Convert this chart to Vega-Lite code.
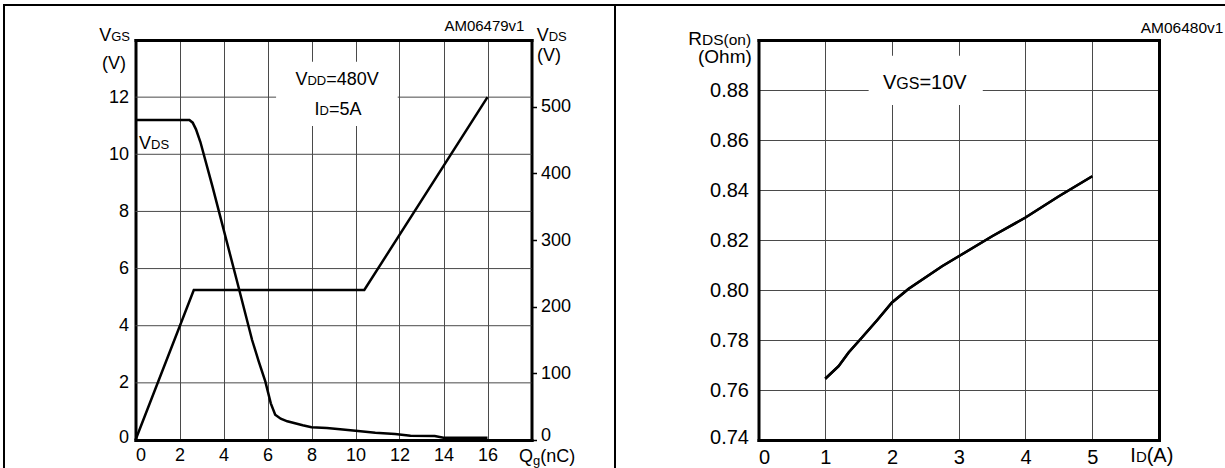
{
  "$schema": "https://vega.github.io/schema/vega-lite/v6.json",
  "background": "white",
  "padding": {"left": 3, "top": 4, "right": 0, "bottom": 0},
  "spacing": 0,
  "bounds": "flush",
  "config": {
    "font": "Liberation Sans",
    "view": {"stroke": "black", "strokeWidth": 2},
    "axis": {"labelColor": "black", "labelFont": "Liberation Sans", "domainColor": "black", "domainWidth": 3, "domainCap": "square", "gridColor": "#4a4a4a", "gridWidth": 1, "ticks": false, "tickColor": "black"},
    "text": {"color": "black", "font": "Liberation Sans"},
    "line": {"color": "black", "strokeWidth": 2.5},
    "rule": {"color": "#4a4a4a", "strokeWidth": 1}
  },
  "datasets": {
    "vgs": [{"qg": 0, "vgs": 0}, {"qg": 2.65, "vgs": 5.25}, {"qg": 10.4, "vgs": 5.25}, {"qg": 16, "vgs": 12}],
    "vds": [
      {"qg": 0, "vds": 480}, {"qg": 2.45, "vds": 480}, {"qg": 2.6, "vds": 476}, {"qg": 2.75, "vds": 466},
      {"qg": 2.95, "vds": 447}, {"qg": 3.5, "vds": 380}, {"qg": 4.6, "vds": 240}, {"qg": 5.3, "vds": 150},
      {"qg": 5.6, "vds": 118}, {"qg": 5.9, "vds": 88}, {"qg": 6.15, "vds": 55}, {"qg": 6.35, "vds": 38},
      {"qg": 6.6, "vds": 32}, {"qg": 6.9, "vds": 28}, {"qg": 7.25, "vds": 25}, {"qg": 7.6, "vds": 22},
      {"qg": 8.0, "vds": 19}, {"qg": 8.7, "vds": 18}, {"qg": 9.3, "vds": 16}, {"qg": 10.0, "vds": 14},
      {"qg": 10.9, "vds": 11}, {"qg": 11.8, "vds": 9}, {"qg": 12.5, "vds": 6.5}, {"qg": 13.6, "vds": 6},
      {"qg": 14.0, "vds": 3.5}, {"qg": 16, "vds": 3.5}
    ],
    "rds": [
      {"id": 1.0, "rds": 0.7645}, {"id": 1.2, "rds": 0.7695}, {"id": 1.35, "rds": 0.775}, {"id": 1.55, "rds": 0.781},
      {"id": 1.78, "rds": 0.788}, {"id": 2.0, "rds": 0.795}, {"id": 2.25, "rds": 0.8005}, {"id": 2.5, "rds": 0.805},
      {"id": 2.75, "rds": 0.8095}, {"id": 3.0, "rds": 0.8135}, {"id": 3.5, "rds": 0.8215}, {"id": 4.0, "rds": 0.829},
      {"id": 4.5, "rds": 0.8375}, {"id": 5.0, "rds": 0.8455}
    ]
  },
  "hconcat": [
    {
      "width": 611,
      "height": 470,
      "layer": [
        {
          "layer": [
            {"data": {"values": [{}]}, "mark": {"type": "rule"},
             "encoding": {"x": {"datum": 0, "type": "quantitative"}, "x2": {"datum": 18}, "y": {"datum": 2, "type": "quantitative"}}},
            {"data": {"values": [{}]}, "mark": {"type": "rule"},
             "encoding": {"x": {"datum": 0, "type": "quantitative"}, "x2": {"datum": 18}, "y": {"datum": 4, "type": "quantitative"}}},
            {"data": {"values": [{}]}, "mark": {"type": "rule"},
             "encoding": {"x": {"datum": 0, "type": "quantitative"}, "x2": {"datum": 18}, "y": {"datum": 6, "type": "quantitative"}}},
            {"data": {"values": [{}]}, "mark": {"type": "rule"},
             "encoding": {"x": {"datum": 0, "type": "quantitative"}, "x2": {"datum": 18}, "y": {"datum": 8, "type": "quantitative"}}},
            {"data": {"values": [{}]}, "mark": {"type": "rule"},
             "encoding": {"x": {"datum": 0, "type": "quantitative"}, "x2": {"datum": 18}, "y": {"datum": 10, "type": "quantitative"}}},
            {"data": {"values": [{}]}, "mark": {"type": "rule"},
             "encoding": {"x": {"datum": 0, "type": "quantitative"}, "x2": {"datum": 18}, "y": {"datum": 12, "type": "quantitative"}}},
            {"data": {"values": [{}]}, "mark": {"type": "rect", "color": "white"},
             "encoding": {"x": {"datum": 6.39, "type": "quantitative"}, "x2": {"datum": 11.92}, "y": {"datum": 13.24, "type": "quantitative"}, "y2": {"datum": 10.99}}},
            {"data": {"name": "vgs"}, "mark": {"type": "line"},
             "encoding": {
               "x": {"field": "qg", "type": "quantitative", "scale": {"domain": [0, 18], "range": [131.5, 527.5], "nice": false, "zero": false},
                     "axis": {"orient": "bottom", "offset": -35, "values": [0, 2, 4, 6, 8, 10, 12, 14, 16], "format": "d", "grid": false, "labelFontSize": 18, "labelPadding": 6, "title": null}},
               "y": {"field": "vgs", "type": "quantitative", "scale": {"domain": [0, 14], "range": [435, 35], "nice": false, "zero": false},
                     "axis": {"orient": "left", "offset": -131.5, "values": [0, 2, 4, 6, 8, 10, 12], "format": "d", "grid": false, "labelFontSize": 18, "labelPadding": 7,
                              "labelOffset": {"condition": {"test": "datum.value === 0", "value": -3}, "value": 0}, "title": null}}
             }},
            {"data": {"values": [{}]}, "mark": {"type": "text", "align": "right", "baseline": "alphabetic", "fontSize": 13, "dx": 0},
             "encoding": {"x": {"datum": -0.25, "type": "quantitative"}, "y": {"datum": 13.965, "type": "quantitative"}, "text": {"value": "GS"}}},
            {"data": {"values": [{}]}, "mark": {"type": "text", "align": "right", "baseline": "alphabetic", "fontSize": 18, "dx": -18.8},
             "encoding": {"x": {"datum": -0.25, "type": "quantitative"}, "y": {"datum": 13.965, "type": "quantitative"}, "text": {"value": "V"}}},
            {"data": {"values": [{}]}, "mark": {"type": "text", "align": "center", "baseline": "middle", "fontSize": 18},
             "encoding": {"x": {"datum": -0.977, "type": "quantitative"}, "y": {"datum": 13.16, "type": "quantitative"}, "text": {"value": "(V)"}}},
            {"data": {"values": [{}]}, "mark": {"type": "text", "align": "left", "baseline": "alphabetic", "fontSize": 18, "dx": 0},
             "encoding": {"x": {"datum": 0.16, "type": "quantitative"}, "y": {"datum": 10.17, "type": "quantitative"}, "text": {"value": "V"}}},
            {"data": {"values": [{}]}, "mark": {"type": "text", "align": "left", "baseline": "alphabetic", "fontSize": 13, "dx": 12},
             "encoding": {"x": {"datum": 0.16, "type": "quantitative"}, "y": {"datum": 10.17, "type": "quantitative"}, "text": {"value": "DS"}}},
            {"data": {"values": [{}]}, "mark": {"type": "text", "align": "left", "baseline": "alphabetic", "fontSize": 18, "dx": 0},
             "encoding": {"x": {"datum": 7.27, "type": "quantitative"}, "y": {"datum": 12.43, "type": "quantitative"}, "text": {"value": "V"}}},
            {"data": {"values": [{}]}, "mark": {"type": "text", "align": "left", "baseline": "alphabetic", "fontSize": 13, "dx": 12},
             "encoding": {"x": {"datum": 7.27, "type": "quantitative"}, "y": {"datum": 12.43, "type": "quantitative"}, "text": {"value": "DD"}}},
            {"data": {"values": [{}]}, "mark": {"type": "text", "align": "left", "baseline": "alphabetic", "fontSize": 18, "dx": 30.8},
             "encoding": {"x": {"datum": 7.27, "type": "quantitative"}, "y": {"datum": 12.43, "type": "quantitative"}, "text": {"value": "=480V"}}},
            {"data": {"values": [{}]}, "mark": {"type": "text", "align": "left", "baseline": "alphabetic", "fontSize": 18, "dx": 0},
             "encoding": {"x": {"datum": 8.14, "type": "quantitative"}, "y": {"datum": 11.375, "type": "quantitative"}, "text": {"value": "I"}}},
            {"data": {"values": [{}]}, "mark": {"type": "text", "align": "left", "baseline": "alphabetic", "fontSize": 13, "dx": 5},
             "encoding": {"x": {"datum": 8.14, "type": "quantitative"}, "y": {"datum": 11.375, "type": "quantitative"}, "text": {"value": "D"}}},
            {"data": {"values": [{}]}, "mark": {"type": "text", "align": "left", "baseline": "alphabetic", "fontSize": 18, "dx": 14.4},
             "encoding": {"x": {"datum": 8.14, "type": "quantitative"}, "y": {"datum": 11.375, "type": "quantitative"}, "text": {"value": "=5A"}}},
            {"data": {"values": [{}]}, "mark": {"type": "text", "align": "center", "baseline": "alphabetic", "fontSize": 15},
             "encoding": {"x": {"datum": 15.86, "type": "quantitative"}, "y": {"datum": 14.3, "type": "quantitative"}, "text": {"value": "AM06479v1"}}},
            {"data": {"values": [{}]}, "mark": {"type": "text", "align": "left", "baseline": "alphabetic", "fontSize": 18, "dx": 0},
             "encoding": {"x": {"datum": 18.236, "type": "quantitative"}, "y": {"datum": 13.965, "type": "quantitative"}, "text": {"value": "V"}}},
            {"data": {"values": [{}]}, "mark": {"type": "text", "align": "left", "baseline": "alphabetic", "fontSize": 13, "dx": 12},
             "encoding": {"x": {"datum": 18.236, "type": "quantitative"}, "y": {"datum": 13.965, "type": "quantitative"}, "text": {"value": "DS"}}},
            {"data": {"values": [{}]}, "mark": {"type": "text", "align": "left", "baseline": "middle", "fontSize": 18},
             "encoding": {"x": {"datum": 18.25, "type": "quantitative"}, "y": {"datum": 13.44, "type": "quantitative"}, "text": {"value": "(V)"}}},
            {"data": {"values": [{}]}, "mark": {"type": "text", "align": "left", "baseline": "alphabetic", "fontSize": 18, "dx": 0},
             "encoding": {"x": {"datum": 17.43, "type": "quantitative"}, "y": {"datum": -0.76, "type": "quantitative"}, "text": {"value": "Q"}}},
            {"data": {"values": [{}]}, "mark": {"type": "text", "align": "left", "baseline": "alphabetic", "fontSize": 13, "dx": 14, "dy": 3},
             "encoding": {"x": {"datum": 17.43, "type": "quantitative"}, "y": {"datum": -0.76, "type": "quantitative"}, "text": {"value": "g"}}},
            {"data": {"values": [{}]}, "mark": {"type": "text", "align": "left", "baseline": "alphabetic", "fontSize": 18, "dx": 21.2},
             "encoding": {"x": {"datum": 17.43, "type": "quantitative"}, "y": {"datum": -0.76, "type": "quantitative"}, "text": {"value": "(nC)"}}}
          ]
        },
        {
          "data": {"name": "vds"},
          "mark": {"type": "line"},
          "encoding": {
            "x": {"field": "qg", "type": "quantitative", "scale": {"domain": [0, 18], "range": [131.5, 527.5], "nice": false, "zero": false},
                  "axis": {"orient": "top", "offset": -35, "values": [2, 4, 6, 8, 10, 12, 14, 16], "grid": true, "gridDash": [400, 1000], "labels": false, "title": null}},
            "y": {"field": "vds", "type": "quantitative", "scale": {"domain": [0, 600], "range": [435, 35], "nice": false, "zero": false},
                  "axis": {"orient": "right", "offset": -83.5, "values": [0, 100, 200, 300, 400, 500], "grid": false, "ticks": true, "tickSize": 5, "tickWidth": 1.5,
                           "labelFontSize": 18, "labelPadding": 4, "labelOffset": {"condition": {"test": "datum.value === 0", "value": -5}, "value": 0}, "title": null}}
          }
        }
      ],
      "resolve": {"scale": {"y": "independent"}, "axis": {"x": "independent", "y": "independent"}}
    },
    {
      "width": 615,
      "height": 470,
      "layer": [
        {
          "layer": [
            {"data": {"values": [{}]}, "mark": {"type": "rect", "color": "white"},
             "encoding": {"x": {"datum": 1.65, "type": "quantitative"}, "x2": {"datum": 3.36}, "y": {"datum": 0.8937, "type": "quantitative"}, "y2": {"datum": 0.874}}},
            {"data": {"name": "rds"}, "mark": {"type": "line"},
             "encoding": {
               "x": {"field": "id", "type": "quantitative", "scale": {"domain": [0, 6], "range": [143.5, 544], "nice": false, "zero": false},
                     "axis": {"orient": "bottom", "offset": -35, "values": [0, 1, 2, 3, 4, 5], "format": "d", "grid": false, "labelFontSize": 20, "labelPadding": 7, "title": null}},
               "y": {"field": "rds", "type": "quantitative", "scale": {"domain": [0.74, 0.9], "range": [435, 35], "nice": false, "zero": false},
                     "axis": {"orient": "left", "offset": -143.5, "values": [0.74, 0.76, 0.78, 0.8, 0.82, 0.84, 0.86, 0.88], "format": ".2f", "grid": true, "gridDash": [400.5, 1000], "labelFontSize": 20, "labelPadding": 10,
                              "labelOffset": {"condition": {"test": "datum.value < 0.745", "value": -3}, "value": 0}, "title": null}}
             }},
            {"data": {"values": [{}]}, "mark": {"type": "text", "align": "left", "baseline": "alphabetic", "fontSize": 19, "dx": 0},
             "encoding": {"x": {"datum": -1.052, "type": "quantitative"}, "y": {"datum": 0.898, "type": "quantitative"}, "text": {"value": "R"}}},
            {"data": {"values": [{}]}, "mark": {"type": "text", "align": "left", "baseline": "alphabetic", "fontSize": 15.5, "dx": 13.7},
             "encoding": {"x": {"datum": -1.052, "type": "quantitative"}, "y": {"datum": 0.898, "type": "quantitative"}, "text": {"value": "DS(on)"}}},
            {"data": {"values": [{}]}, "mark": {"type": "text", "align": "right", "baseline": "middle", "fontSize": 19},
             "encoding": {"x": {"datum": -0.1, "type": "quantitative"}, "y": {"datum": 0.8932, "type": "quantitative"}, "text": {"value": "(Ohm)"}}},
            {"data": {"values": [{}]}, "mark": {"type": "text", "align": "left", "baseline": "alphabetic", "fontSize": 20, "dx": 0},
             "encoding": {"x": {"datum": 1.865, "type": "quantitative"}, "y": {"datum": 0.8804, "type": "quantitative"}, "text": {"value": "V"}}},
            {"data": {"values": [{}]}, "mark": {"type": "text", "align": "left", "baseline": "alphabetic", "fontSize": 16, "dx": 13.3},
             "encoding": {"x": {"datum": 1.865, "type": "quantitative"}, "y": {"datum": 0.8804, "type": "quantitative"}, "text": {"value": "GS"}}},
            {"data": {"values": [{}]}, "mark": {"type": "text", "align": "left", "baseline": "alphabetic", "fontSize": 20, "dx": 36.4},
             "encoding": {"x": {"datum": 1.865, "type": "quantitative"}, "y": {"datum": 0.8804, "type": "quantitative"}, "text": {"value": "=10V"}}},
            {"data": {"values": [{}]}, "mark": {"type": "text", "align": "center", "baseline": "alphabetic", "fontSize": 15.5},
             "encoding": {"x": {"datum": 6.345, "type": "quantitative"}, "y": {"datum": 0.9028, "type": "quantitative"}, "text": {"value": "AM06480v1"}}},
            {"data": {"values": [{}]}, "mark": {"type": "text", "align": "left", "baseline": "alphabetic", "fontSize": 20, "dx": 0},
             "encoding": {"x": {"datum": 5.57, "type": "quantitative"}, "y": {"datum": 0.7312, "type": "quantitative"}, "text": {"value": "I"}}},
            {"data": {"values": [{}]}, "mark": {"type": "text", "align": "left", "baseline": "alphabetic", "fontSize": 15, "dx": 5.6},
             "encoding": {"x": {"datum": 5.57, "type": "quantitative"}, "y": {"datum": 0.7312, "type": "quantitative"}, "text": {"value": "D"}}},
            {"data": {"values": [{}]}, "mark": {"type": "text", "align": "left", "baseline": "alphabetic", "fontSize": 20, "dx": 16.4},
             "encoding": {"x": {"datum": 5.57, "type": "quantitative"}, "y": {"datum": 0.7312, "type": "quantitative"}, "text": {"value": "(A)"}}}
          ]
        },
        {
          "data": {"name": "rds"},
          "mark": {"type": "line"},
          "encoding": {
            "x": {"field": "id", "type": "quantitative", "scale": {"domain": [0, 6], "range": [143.5, 544], "nice": false, "zero": false},
                  "axis": {"orient": "top", "offset": -35, "values": [1, 2, 3, 4, 5], "grid": true, "gridDash": [400, 1000], "labels": false, "title": null}},
            "y": {"field": "rds", "type": "quantitative", "scale": {"domain": [0.74, 0.9], "range": [435, 35], "nice": false, "zero": false},
                  "axis": {"orient": "right", "offset": -71, "values": [], "grid": false, "labels": false, "title": null}}
          }
        }
      ],
      "resolve": {"axis": {"x": "independent", "y": "independent"}}
    }
  ]
}
